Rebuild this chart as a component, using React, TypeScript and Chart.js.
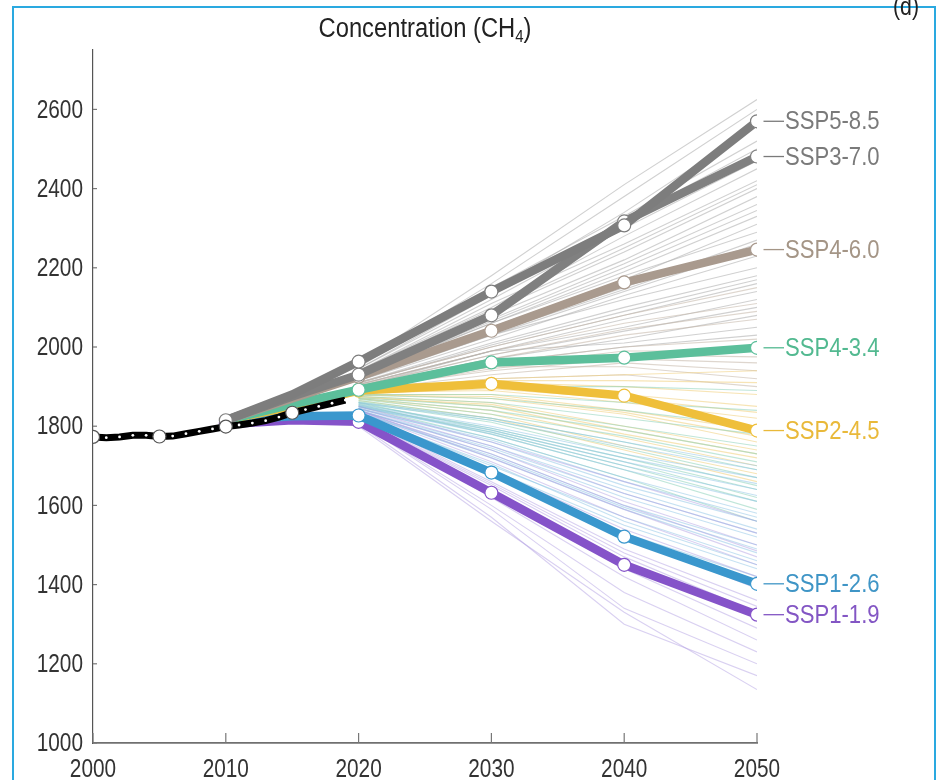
import React, { useEffect, useRef } from "react";
import { Chart, registerables } from "chart.js";

Chart.register(...registerables);

const FONT = '"Liberation Sans", Arial, sans-serif';

const histYears = [2000, 2001, 2002, 2003, 2004, 2005, 2006, 2007, 2008, 2009, 2010, 2011, 2012, 2013, 2014, 2015, 2016, 2017, 2018, 2019];
const histValues = [1773, 1771, 1773, 1777, 1777, 1774, 1775, 1781, 1787, 1793, 1799, 1803, 1808, 1814, 1823, 1834, 1842, 1850, 1858, 1866];
const histBigMarkers = [2000, 2005, 2010, 2015];

const scenYears = [2010, 2015, 2020, 2030, 2040, 2050];
const ssp585 = [1815, 1880, 1963, 2140, 2307, 2570];
const ssp370 = [1815, 1875, 1930, 2080, 2317, 2481];
const ssp460 = [1815, 1870, 1925, 2041, 2163, 2246];
const ssp434 = [1815, 1855, 1892, 1961, 1973, 1998];
const ssp245 = [1815, 1850, 1890, 1907, 1877, 1789];
const ssp126 = [1815, 1825, 1827, 1683, 1521, 1402];
const ssp119 = [1805, 1815, 1811, 1632, 1450, 1324];

const scenNames = ["SSP5-8.5", "SSP3-7.0", "SSP4-6.0", "SSP4-3.4", "SSP2-4.5", "SSP1-2.6", "SSP1-1.9"];
const scenLineColors = ["#7d7d7d", "#808080", "#a99a8e", "#5cbf9b", "#efbf3a", "#3a97cd", "#8553c9"];
const scenTextColors = ["#7a7a7a", "#7a7a7a", "#a49586", "#52b990", "#e9b93a", "#3f95c6", "#8356c4"];
const scenMarkerStart = [true, false, false, false, false, false, true];

const thinYears = [2020, 2030, 2040, 2050];
const thinGray = [
  [1960, 2180, 2410, 2625], [1955, 2160, 2380, 2600], [1950, 2140, 2340, 2560], [1950, 2150, 2330, 2520],
  [1945, 2130, 2320, 2500], [1945, 2120, 2300, 2470], [1940, 2100, 2280, 2450], [1940, 2110, 2260, 2420],
  [1938, 2095, 2250, 2410], [1935, 2090, 2240, 2400], [1935, 2080, 2220, 2380], [1930, 2070, 2210, 2360],
  [1928, 2065, 2200, 2345], [1930, 2060, 2190, 2330], [1925, 2050, 2170, 2310], [1925, 2060, 2180, 2290],
  [1920, 2040, 2150, 2270], [1918, 2035, 2145, 2260], [1920, 2030, 2140, 2250], [1915, 2020, 2130, 2230],
  [1915, 2030, 2120, 2200], [1910, 2010, 2100, 2180], [1908, 2005, 2090, 2170], [1910, 2000, 2080, 2160],
  [1905, 1990, 2070, 2140], [1905, 1990, 2050, 2120], [1900, 1980, 2040, 2100], [1900, 1970, 2020, 2080],
  [1900, 1990, 2010, 2050], [1895, 1960, 2000, 2030],
];
const thinTan = [
  [1910, 2000, 2080, 2150], [1905, 1990, 2060, 2110], [1902, 1980, 2045, 2090], [1900, 1970, 2030, 2070],
  [1900, 1960, 2000, 2020], [1895, 1950, 1990, 1990], [1892, 1945, 1980, 1975], [1895, 1940, 1970, 1960],
  [1890, 1930, 1960, 1940], [1890, 1950, 1950, 1920], [1885, 1920, 1930, 1900],
];
const thinYellow = [
  [1890, 1920, 1930, 1940], [1888, 1915, 1915, 1910], [1890, 1910, 1900, 1880], [1885, 1900, 1880, 1850],
  [1882, 1895, 1870, 1835], [1885, 1890, 1860, 1820], [1880, 1880, 1840, 1790], [1878, 1875, 1835, 1775],
  [1880, 1870, 1830, 1760], [1875, 1860, 1800, 1740], [1872, 1855, 1790, 1730], [1875, 1850, 1780, 1720],
  [1870, 1840, 1770, 1700], [1870, 1830, 1750, 1680], [1865, 1820, 1740, 1660],
];
const thinGreen = [
  [1885, 1900, 1900, 1890], [1880, 1880, 1860, 1840], [1878, 1870, 1840, 1800], [1875, 1860, 1820, 1780],
  [1872, 1850, 1800, 1750], [1870, 1840, 1790, 1730], [1868, 1830, 1775, 1710], [1865, 1820, 1760, 1690],
  [1862, 1815, 1745, 1670], [1860, 1810, 1730, 1650], [1857, 1795, 1720, 1640], [1860, 1790, 1710, 1620],
  [1855, 1780, 1690, 1590], [1852, 1785, 1700, 1610], [1850, 1770, 1670, 1560],
];
const thinBlue = [
  [1860, 1820, 1760, 1700], [1858, 1815, 1750, 1690], [1855, 1800, 1730, 1670], [1853, 1795, 1720, 1655],
  [1850, 1790, 1710, 1640], [1848, 1785, 1700, 1625], [1850, 1780, 1690, 1610], [1845, 1770, 1670, 1580],
  [1843, 1765, 1660, 1570], [1845, 1760, 1650, 1560], [1840, 1750, 1640, 1540], [1838, 1745, 1630, 1530],
  [1840, 1740, 1620, 1520], [1835, 1730, 1600, 1500], [1833, 1725, 1595, 1490], [1835, 1720, 1590, 1480],
  [1830, 1700, 1570, 1460], [1828, 1705, 1560, 1450], [1830, 1690, 1550, 1440], [1825, 1680, 1530, 1420],
];
const thinPurple = [
  [1850, 1760, 1660, 1560], [1845, 1750, 1630, 1530], [1840, 1740, 1610, 1500], [1838, 1730, 1600, 1485],
  [1840, 1720, 1590, 1470], [1835, 1710, 1570, 1450], [1830, 1690, 1540, 1420], [1828, 1685, 1530, 1405],
  [1830, 1680, 1520, 1390], [1825, 1660, 1490, 1360], [1822, 1655, 1480, 1345], [1820, 1650, 1470, 1330],
  [1815, 1640, 1440, 1290], [1815, 1620, 1420, 1260], [1810, 1600, 1380, 1230], [1810, 1590, 1340, 1200],
  [1805, 1570, 1300, 1170], [1800, 1560, 1330, 1135],
];

const xTicks = [2000, 2010, 2020, 2030, 2040, 2050];
const yTicks = [1000, 1200, 1400, 1600, 1800, 2000, 2200, 2400, 2600];

function squeezeText(ctx: CanvasRenderingContext2D, text: string, x: number, y: number, sx: number, align: CanvasTextAlign) {
  ctx.save();
  ctx.translate(x, y);
  ctx.scale(sx, 1);
  ctx.textAlign = align;
  ctx.fillText(text, 0, 0);
  ctx.restore();
}

export default function App() {
  const ref = useRef<HTMLCanvasElement | null>(null);

  useEffect(() => {
    const canvas = ref.current;
    if (!canvas) return;

    const datasets: any[] = [];

    datasets.push({
      label: "hist",
      data: histYears.map((y, i) => ({ x: y, y: histValues[i] })),
      borderColor: "#000000",
      borderWidth: 7,
      pointRadius: histYears.map((y) => (histBigMarkers.includes(y) ? 6.5 : 1.4)),
      pointBackgroundColor: "#ffffff",
      pointBorderColor: histYears.map((y) => (histBigMarkers.includes(y) ? "#555555" : "#ffffff")),
      pointBorderWidth: histYears.map((y) => (histBigMarkers.includes(y) ? 1.2 : 0)),
      tension: 0,
    });

    const scenData = [ssp585, ssp370, ssp460, ssp434, ssp245, ssp126, ssp119];
    scenData.forEach((vals, k) => {
      datasets.push({
        label: scenNames[k],
        data: scenYears.map((y, i) => ({ x: y, y: vals[i] })),
        borderColor: scenLineColors[k],
        borderWidth: 8.5,
        pointRadius: scenYears.map((y) => (y >= 2020 ? 6.5 : y === 2010 && scenMarkerStart[k] ? 6.5 : 0)),
        pointBackgroundColor: "#ffffff",
        pointBorderColor: scenLineColors[k],
        pointBorderWidth: 1.2,
        tension: 0,
      });
    });

    const groups: [number[][], string][] = [
      [thinPurple, "rgba(170,150,225,0.45)"],
      [thinBlue, "rgba(140,195,230,0.5)"],
      [thinGreen, "rgba(140,210,185,0.55)"],
      [thinYellow, "rgba(240,205,120,0.55)"],
      [thinTan, "rgba(195,180,165,0.55)"],
      [thinGray, "rgba(170,170,170,0.55)"],
    ];
    groups.forEach(([lines, color]) => {
      lines.forEach((vals) => {
        datasets.push({
          label: "thin",
          data: thinYears.map((y, i) => ({ x: y, y: vals[i] })),
          borderColor: color,
          borderWidth: 1.1,
          pointRadius: 0,
          tension: 0,
        });
      });
    });

    const decor = {
      id: "decor",
      afterDraw(chart: any) {
        const ctx = chart.ctx;
        const xs = chart.scales.x;
        const ys = chart.scales.y;
        const area = chart.chartArea;
        ctx.save();
        ctx.strokeStyle = "#777777";
        ctx.lineWidth = 1.2;
        xTicks.forEach((t) => {
          const px = xs.getPixelForValue(t);
          ctx.beginPath();
          ctx.moveTo(px, area.bottom);
          ctx.lineTo(px, area.bottom - 10);
          ctx.stroke();
        });
        yTicks.forEach((t) => {
          const py = ys.getPixelForValue(t);
          ctx.beginPath();
          ctx.moveTo(area.left, py);
          ctx.lineTo(area.left + 4, py);
          ctx.stroke();
        });
        ctx.fillStyle = "#333333";
        ctx.font = `26px ${FONT}`;
        ctx.textBaseline = "middle";
        yTicks.forEach((t) => {
          squeezeText(ctx, String(t), area.left - 10, ys.getPixelForValue(t) + 1, 0.8, "right");
        });
        xTicks.forEach((t) => {
          squeezeText(ctx, String(t), xs.getPixelForValue(t), area.bottom + 27, 0.8, "center");
        });
        ctx.font = `26px ${FONT}`;
        ctx.textBaseline = "middle";
        scenNames.forEach((name, k) => {
          const meta = chart.getDatasetMeta(k + 1);
          const pt = meta.data[meta.data.length - 1];
          ctx.strokeStyle = scenTextColors[k];
          ctx.lineWidth = 1.3;
          ctx.beginPath();
          ctx.moveTo(pt.x + 6.5, pt.y);
          ctx.lineTo(pt.x + 27, pt.y);
          ctx.stroke();
          ctx.fillStyle = scenTextColors[k];
          squeezeText(ctx, name, pt.x + 28, pt.y + 1, 0.85, "left");
        });
        ctx.fillStyle = "#222222";
        ctx.textBaseline = "alphabetic";
        const sx = 0.88;
        ctx.font = `27px ${FONT}`;
        const t1 = "Concentration (CH";
        const w1 = ctx.measureText(t1).width * sx;
        const w3 = ctx.measureText(")").width * sx;
        ctx.font = `17px ${FONT}`;
        const w2 = ctx.measureText("4").width * sx;
        const total = w1 + w2 + w3;
        const x0 = 425 - total / 2;
        const base = 37;
        ctx.font = `27px ${FONT}`;
        squeezeText(ctx, t1, x0, base, sx, "left");
        ctx.font = `17px ${FONT}`;
        squeezeText(ctx, "4", x0 + w1, base + 5, sx, "left");
        ctx.font = `27px ${FONT}`;
        squeezeText(ctx, ")", x0 + w1 + w2, base, sx, "left");
        ctx.font = `25px ${FONT}`;
        squeezeText(ctx, "(d)", 893, 15, 0.85, "left");
        ctx.restore();
      },
    };

    const chart = new Chart(canvas, {
      type: "line",
      data: { datasets },
      options: {
        animation: false,
        responsive: false,
        maintainAspectRatio: false,
        events: [],
        layout: { padding: { left: 0, right: 186, top: 50, bottom: 0 } },
        plugins: { legend: { display: false }, tooltip: { enabled: false }, title: { display: false } },
        scales: {
          x: {
            type: "linear",
            min: 2000,
            max: 2050,
            afterFit: (s: any) => { s.height = 37; },
            ticks: { display: false, stepSize: 10 },
            grid: { display: true, drawOnChartArea: false, drawTicks: false },
            border: { display: true, color: "#707070", width: 1.8 },
          },
          y: {
            type: "linear",
            min: 1000,
            max: 2750,
            afterFit: (s: any) => { s.width = 93; },
            ticks: { display: false, stepSize: 200 },
            grid: { display: true, drawOnChartArea: false, drawTicks: false },
            border: { display: true, color: "#555555", width: 1.2 },
          },
        },
      },
      plugins: [decor],
    });

    return () => chart.destroy();
  }, []);

  return (
    <div style={{ position: "fixed", left: 0, top: 0, width: 943, height: 780, background: "#ffffff", overflow: "hidden" }}>
      <div
        style={{
          position: "absolute",
          left: 12,
          top: 6,
          width: 920,
          height: 900,
          border: "2px solid #2aa9e0",
        }}
      />
      <canvas ref={ref} width={943} height={780} style={{ position: "absolute", left: 0, top: 0, width: 943, height: 780 }} />
    </div>
  );
}
